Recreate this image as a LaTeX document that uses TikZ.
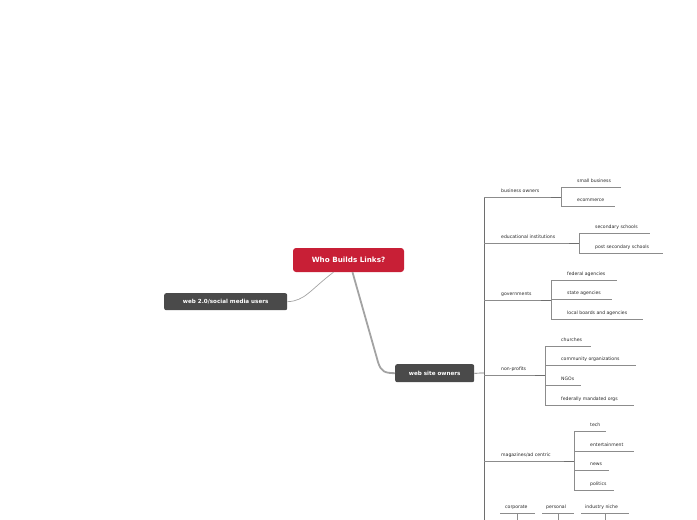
\documentclass[tikz,border=0pt]{standalone}
\usepackage{fontspec}
\setmainfont{DejaVu Sans}
\definecolor{rootred}{HTML}{C81F36}
\definecolor{dark}{HTML}{4A4A4A}
\definecolor{ln}{HTML}{8C8C8C}
\tikzset{
  topic/.style={fill=dark,rounded corners=2pt,text=white,font=\fontsize{5.6}{7}\selectfont\bfseries,inner sep=0pt,anchor=north west},
  lbl/.style={font=\fontsize{4.6}{5.5}\selectfont,text=black!85,anchor=base west,inner sep=0pt},
  uline/.style={draw=ln,line width=0.6pt},
  trunk/.style={draw=dark!80,line width=0.7pt},
}
\newcommand{\leaf}[6]{% name, xstart, y(line), xend, textx, text
  \coordinate (#1s) at (#2,#3); \coordinate (#1e) at (#4,#3);
  \node[lbl] (#1) at (#5,#3-5) {#6};
  \draw[uline] (#1s) -- (#1e);}
\begin{document}
\begin{tikzpicture}[x=1pt,y=-1pt]
\useasboundingbox (0,0) rectangle (697,520);
% central
\node[fill=rootred,rounded corners=3pt,text=white,font=\fontsize{7.2}{8}\selectfont\bfseries,minimum width=111pt,minimum height=24pt,inner sep=0pt] (root) at (348.5,260) {Who Builds Links?};
\node[topic,minimum width=123pt,minimum height=17pt] (web2) at (164,293) {};
\node[font=\fontsize{5.6}{7}\selectfont\bfseries,text=white] (web2t) at (web2.center) {web 2.0/social media users};
\node[topic,minimum width=79pt,minimum height=18pt] (wso) at (395,364) {};
\node[font=\fontsize{5.6}{7}\selectfont\bfseries,text=white] (wsot) at (wso.center) {web site owners};
\draw[ln!80,line width=0.7pt] ([xshift=-15pt]root.south) .. controls (310,290) and (305,301) .. (web2.east);
\draw[ln!80,line width=1.8pt] ([xshift=4pt]root.south) -- (378,362) .. controls (381,372) and (385,373) .. (wso.west);
% trunk
\coordinate (tt) at (484,197); \coordinate (tb) at (484,520);
\draw[trunk] (tt) -- (tb);
\draw[trunk] (wso.east) -- (484,373);
% business owners
\leaf{bo}{484}{197}{561}{501}{business owners}
\draw[trunk] (551,197) -- (boe);
\draw[uline] (561,187) -- (561,206);
\leaf{sb}{561}{187}{621}{577}{small business}
\leaf{ec}{561}{206}{615}{577}{ecommerce}
% educational
\leaf{ei}{484}{243}{579}{501}{educational institutions}
\draw[trunk] (569,243) -- (eie);
\draw[uline] (579,233) -- (579,253);
\leaf{ss}{579}{233}{650}{595}{secondary schools}
\leaf{ps}{579}{253}{663}{595}{post secondary schools}
% governments
\leaf{gv}{484}{300}{551}{501}{governments}
\draw[trunk] (541,300) -- (gve);
\draw[uline] (551,280) -- (551,319);
\leaf{fa}{551}{280}{617}{567}{federal agencies}
\leaf{sa}{551}{299}{612}{567}{state agencies}
\leaf{lb}{551}{319}{643}{567}{local boards and agencies}
% non-profits
\leaf{np}{484}{375}{545}{501}{non-profits}
\draw[trunk] (535,375) -- (npe);
\draw[uline] (545,346) -- (545,405);
\leaf{ch}{545}{346}{591}{561}{churches}
\leaf{co}{545}{365}{636}{561}{community organizations}
\leaf{ng}{545}{385}{581}{561}{NGOs}
\leaf{fm}{545}{405}{634}{561}{federally mandated orgs}
% magazines
\leaf{mg}{484}{461}{574}{501}{magazines/ad centric}
\draw[trunk] (564,461) -- (mge);
\draw[uline] (574,431) -- (574,490);
\leaf{te}{574}{431}{606}{590}{tech}
\leaf{en}{574}{451}{634}{590}{entertainment}
\leaf{nw}{574}{470}{609}{590}{news}
\leaf{po}{574}{490}{614}{590}{politics}
% bottom
\leaf{cp}{500}{513}{535}{505}{corporate}
\draw[uline] (517,513) -- (517,520);
\leaf{pe}{542}{513}{574}{546}{personal}
\draw[uline] (558,513) -- (558,520);
\leaf{in}{581}{513}{629}{585}{industry niche}
\draw[uline] (605,513) -- (605,520);
\end{tikzpicture}
\end{document}
